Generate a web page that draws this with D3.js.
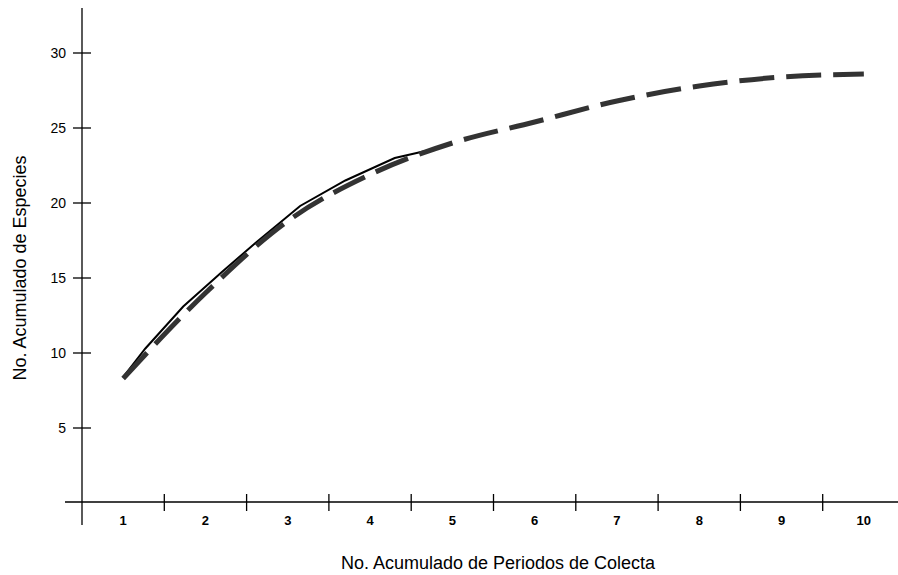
<!DOCTYPE html>
<html>
<head>
<meta charset="utf-8">
<script src="https://cdn.jsdelivr.net/npm/d3@7"></script>
<style>
  body { margin: 0; background: #fff; }
  svg text { font-family: "Liberation Sans", Arial, sans-serif; fill: #000; }
</style>
</head>
<body>
<svg id="chart"></svg>
<script>
// periodos de colecta (categorias del eje x)
const periodos = [1, 2, 3, 4, 5, 6, 7, 8, 9, 10];
// curva estimada (linea discontinua), un valor por periodo
const estimada = [8.3, 14.0, 18.8, 21.9, 24.0, 25.4, 26.8, 27.8, 28.4, 28.6];
// curva observada (linea continua)
const obsX = [1, 1.27, 1.73, 2.2, 2.6, 3.15, 3.7, 4.3, 4.86];
const obsY = [8.4, 10.3, 13.1, 15.4, 17.3, 19.8, 21.5, 23.0, 23.7];
const yTicks = [5, 10, 15, 20, 25, 30];

const width = 898, height = 575;
const axisX = 82, axisY = 502;

const svg = d3.select("#chart")
  .attr("width", width)
  .attr("height", height);

const x = d3.scaleBand().domain(periodos).range([axisX, 905]);
const bw = x.bandwidth();
// escala continua que pasa por el centro de cada banda
const xc = d3.scaleLinear().domain([1, 10]).range([x(1) + bw / 2, x(10) + bw / 2]);
const y = d3.scaleLinear().domain([0, 30]).range([503, 53]);

// --- ejes ---
const g = svg.append("g").attr("stroke", "#000").attr("stroke-width", 1.3);
g.append("line").attr("x1", axisX).attr("x2", axisX).attr("y1", 8).attr("y2", 525);
g.append("line").attr("x1", 65).attr("x2", width).attr("y1", axisY).attr("y2", axisY);

g.selectAll("line.ytick")
  .data(yTicks)
  .enter().append("line")
  .attr("class", "ytick")
  .attr("x1", axisX - 9).attr("x2", axisX + 9)
  .attr("y1", d => y(d)).attr("y2", d => y(d));

g.selectAll("line.xtick")
  .data(periodos.slice(1))
  .enter().append("line")
  .attr("class", "xtick")
  .attr("x1", d => x(d)).attr("x2", d => x(d))
  .attr("y1", axisY - 8).attr("y2", axisY + 9);

svg.selectAll("text.ylab")
  .data(yTicks)
  .enter().append("text")
  .attr("class", "ylab")
  .attr("x", 66)
  .attr("y", d => y(d))
  .attr("dy", "0.35em")
  .attr("text-anchor", "end")
  .style("font-size", "14px")
  .text(d => d);

svg.selectAll("text.xlab")
  .data(periodos)
  .enter().append("text")
  .attr("class", "xlab")
  .attr("x", d => x(d) + bw / 2)
  .attr("y", 520)
  .attr("dy", "0.35em")
  .attr("text-anchor", "middle")
  .style("font-size", "13px")
  .style("font-weight", "bold")
  .text(d => d);

// titulos
svg.append("text")
  .attr("x", 498).attr("y", 569)
  .attr("text-anchor", "middle")
  .style("font-size", "18px")
  .text("No. Acumulado de Periodos de Colecta");

svg.append("text")
  .attr("transform", "translate(26,268) rotate(-90)")
  .attr("text-anchor", "middle")
  .style("font-size", "18px")
  .text("No. Acumulado de Especies");

// --- lineas ---
const lineEst = d3.line()
  .x((d, i) => xc(periodos[i]))
  .y(d => y(d))
  .curve(d3.curveMonotoneX);

const lineObs = d3.line()
  .x((d, i) => xc(obsX[i]))
  .y(d => y(d));

svg.append("path")
  .attr("d", lineObs(obsY))
  .attr("fill", "none")
  .attr("stroke", "#000")
  .attr("stroke-width", 2);

svg.append("path")
  .attr("d", lineEst(estimada))
  .attr("fill", "none")
  .attr("stroke", "#333")
  .attr("stroke-width", 5)
  .attr("stroke-dasharray", "35,12");
</script>
</body>
</html>
